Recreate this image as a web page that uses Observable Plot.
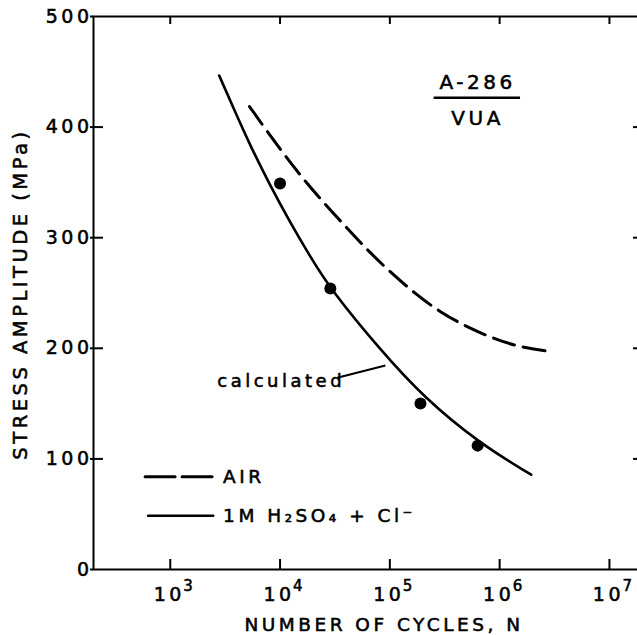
<!DOCTYPE html>
<html><head><meta charset="utf-8">
<script src="https://cdn.jsdelivr.net/npm/d3@7"></script>
<script src="https://cdn.jsdelivr.net/npm/@observablehq/plot@0.6"></script>
<style>
html,body{margin:0;padding:0;background:#fff;overflow:hidden;}
svg{max-width:none !important;letter-spacing:3.5px;}
svg text{stroke:#000;stroke-width:0.55px;}
</style></head><body><div id="chart"></div>
<script>
// Axis ticks
const xTicks = [1e3, 1e4, 1e5, 1e6, 1e7];
const xExponents = ["3", "4", "5", "6", "7"];
const yTicks = [0, 100, 200, 300, 400, 500];
const yRightTicks = [100, 200, 300, 400];
const xTitle = "NUMBER OF CYCLES, N";
const yTitle = "STRESS AMPLITUDE (MPa)";

// AIR (dashed) curve
const airN = [5272, 7332, 10760, 16380, 25830, 40720, 61980, 97520, 170800, 288700, 522800, 948800, 1659000, 3010000];
const airS = [418.6, 398.4, 376.1, 352.6, 330.0, 308.7, 289.2, 270.2, 249.1, 232.5, 218.4, 207.5, 200.3, 196.9];

// 1M H2SO4 + Cl- (solid, calculated) curve
const acidN = [2791, 3745, 5350, 7970, 12390, 18850, 28681, 81900, 203300, 668300, 1937000];
const acidS = [446.6, 417.7, 383.3, 348.9, 313.6, 282.9, 253.7, 198.5, 155.6, 113.4, 85.7];

// Measured points
const pointN = [10000, 28700, 190000, 630000];
const pointS = [349, 254, 150, 112];

// Annotation / legend anchors (data coordinates)
const titleN = [630000];
const titleTopS = [440];
const titleBottomS = [408];
const underlineN = [253000, 1550000];
const underlineS = [426.5];
const calcLabelN = [2680];
const calcLabelS = [170];
const calcPointerN = [33200, 91000];
const calcPointerS = [173.4, 184.5];
const legendLabels = ["AIR", "1M H\u2082SO\u2084 + Cl\u207B"];
const legendDashN = [590, 2460];
const legendSolidN = [629, 2460];
const legendS = [83.9, 48.6];
const legendTextN = [3030];

const air = airN.map((n, i) => ({n, s: airS[i]}));
const acid = acidN.map((n, i) => ({n, s: acidS[i]}));
const pts = pointN.map((n, i) => ({n, s: pointS[i]}));
const legDash = legendDashN.map(n => ({n, s: legendS[0]}));
const legSolid = legendSolidN.map(n => ({n, s: legendS[1]}));

const chart = Plot.plot({
  width: 650,
  height: 635,
  marginLeft: 93,
  marginRight: 8,
  marginTop: 16,
  marginBottom: 66,
  x: {type: "log", domain: [200, 2e7]},
  y: {domain: [0, 500]},
  style: {fontFamily: "'DejaVu Sans', sans-serif", fontSize: "19px", color: "#000", background: "#fff", overflow: "visible", maxWidth: "none"},
  marks: [
    Plot.axisY({anchor: "left", ticks: yTicks, tickSize: 3, tickPadding: -2, tickFormat: d => String(d), label: null, fontSize: 19, strokeWidth: 2}),
    Plot.axisY({anchor: "left", ticks: yRightTicks, tickSize: -10, tickFormat: () => "", label: null, strokeWidth: 2}),
    Plot.axisY({anchor: "right", ticks: yRightTicks, tickSize: -10, tickFormat: () => "", label: null, strokeWidth: 2}),
    Plot.axisX({anchor: "top", ticks: xTicks, tickSize: -7, tickFormat: () => "", label: null, strokeWidth: 2}),
    Plot.axisX({anchor: "bottom", ticks: xTicks, tickSize: -10, tickFormat: () => "", label: null, strokeWidth: 2}),
    Plot.frame({stroke: "#000", strokeWidth: 2}),
    Plot.text([yTitle], {frameAnchor: "left", rotate: -90, textAnchor: "middle", lineAnchor: "top", dx: -80, dy: 1, fontSize: 19.5, text: d => d, style: "letter-spacing:3.2px"}),
    Plot.text([xTitle], {frameAnchor: "bottom", textAnchor: "middle", lineAnchor: "top", dy: 48, dx: 16, fontSize: 18.5, text: d => d}),
    Plot.text(xTicks, {x: d => d, text: () => "10", frameAnchor: "bottom", lineAnchor: "top", dy: 18, dx: -1, fontSize: 19}),
    Plot.text(xTicks, {x: d => d, text: (d, i) => xExponents[i], frameAnchor: "bottom", lineAnchor: "top", textAnchor: "start", dx: 13, dy: 11, fontSize: 15}),
    Plot.line(air, {x: "n", y: "s", stroke: "#000", strokeWidth: 3, strokeDasharray: "22,9", curve: "basis"}),
    Plot.line(acid, {x: "n", y: "s", stroke: "#000", strokeWidth: 2.6, curve: "basis"}),
    Plot.dot(pts, {x: "n", y: "s", r: 6, fill: "#000"}),
    Plot.text(titleN, {x: d => d, y: () => titleTopS[0], text: () => "A-286", fontSize: 20, lineAnchor: "middle"}),
    Plot.ruleY(underlineS, {y: d => d, x1: underlineN[0], x2: underlineN[1], strokeWidth: 2.5}),
    Plot.text(titleN, {x: d => d, y: () => titleBottomS[0], text: () => "VUA", fontSize: 20, lineAnchor: "middle", style: "letter-spacing:5px"}),
    Plot.text(calcLabelN, {x: d => d, y: () => calcLabelS[0], text: () => "calculated", textAnchor: "start", fontSize: 18, lineAnchor: "middle", style: "letter-spacing:2.5px"}),
    Plot.link([0], {x1: () => calcPointerN[0], y1: () => calcPointerS[0], x2: () => calcPointerN[1], y2: () => calcPointerS[1], stroke: "#000", strokeWidth: 2}),
    Plot.line(legDash, {x: "n", y: "s", stroke: "#000", strokeWidth: 3, strokeDasharray: "30,7"}),
    Plot.line(legSolid, {x: "n", y: "s", stroke: "#000", strokeWidth: 2.6}),
    Plot.text(legendLabels, {x: () => legendTextN[0], y: (d, i) => legendS[i], text: d => d, textAnchor: "start", fontSize: 18.5, lineAnchor: "middle"})
  ]
});
document.getElementById("chart").appendChild(chart);
</script>
</body></html>
